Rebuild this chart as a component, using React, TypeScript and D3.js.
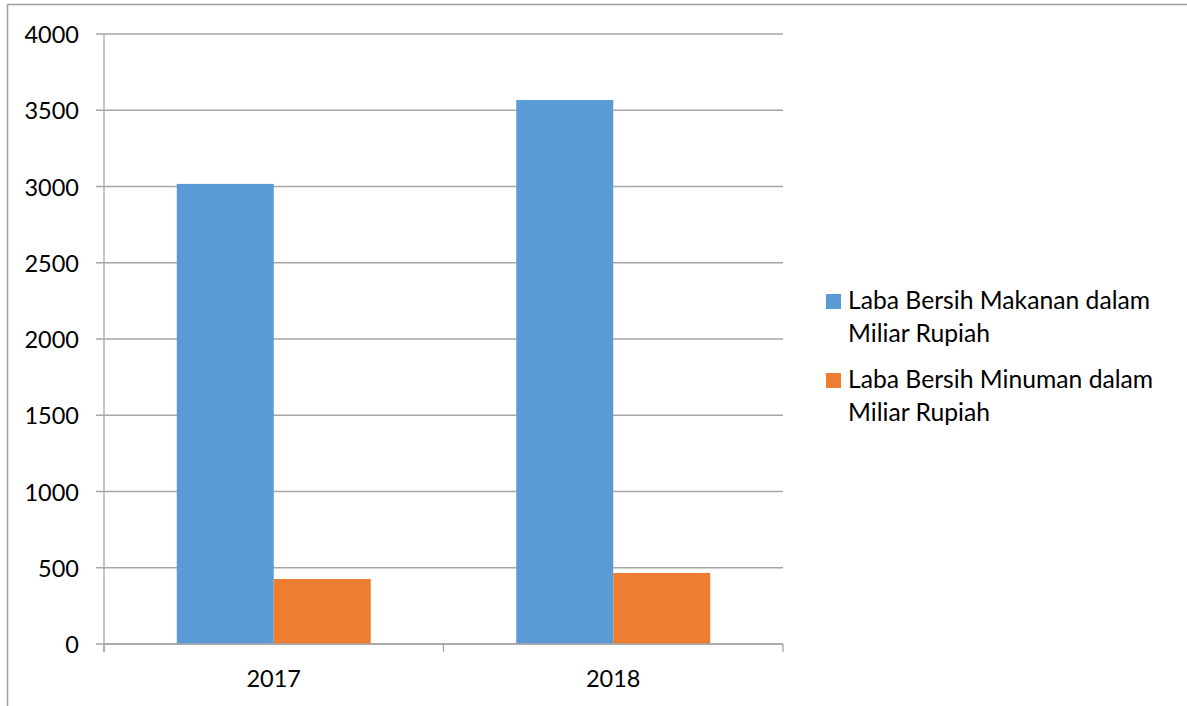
import React from "react";
import * as d3 from "d3";

const categories = ["2017", "2018"];
const seriesNames = [
  "Laba Bersih Makanan dalam Miliar Rupiah",
  "Laba Bersih Minuman dalam Miliar Rupiah",
];
const legendLines = [
  ["Laba Bersih Makanan dalam", "Miliar Rupiah"],
  ["Laba Bersih Minuman dalam", "Miliar Rupiah"],
];
const makanan = [3017, 3567];
const minuman = [426, 466];
const yTicks = [0, 500, 1000, 1500, 2000, 2500, 3000, 3500, 4000];
const colors = ["#5B9BD5", "#ED7D31"];

const W = 1187;
const H = 706;
const FONT = "Lato, 'Open Sans', sans-serif";

export default function App() {
  const left = 104;
  const right = 783;
  const top = 34;
  const bottom = 644;
  const y = d3.scaleLinear().domain([0, 4000]).range([bottom, top]);
  const x0 = d3.scaleBand().domain(categories).range([left, right]).paddingInner(0).paddingOuter(0);
  const x1 = d3
    .scaleBand()
    .domain(seriesNames)
    .range([0, x0.bandwidth()])
    .paddingInner(0)
    .paddingOuter(0.75);
  const data = [makanan, minuman];
  const gridColor = "#a6a6a6";
  const catTicks = [left, ...categories.map((c) => (x0(c) as number) + x0.bandwidth())];

  return (
    <div style={{ position: "absolute", left: 0, top: 0 }}>
      <svg width={W} height={H} style={{ display: "block", background: "#fff" }}>
        <rect x={7.5} y={4.5} width={W + 10} height={H + 10} fill="#fff" stroke="#a0a0a0" strokeWidth={1.5} />
        {yTicks.map((t) => (
          <g key={t}>
            <line x1={96} x2={right} y1={y(t)} y2={y(t)} stroke={gridColor} strokeWidth={1.3} />
            <text
              x={79}
              y={y(t)}
              textAnchor="end"
              dominantBaseline="central"
              fontFamily={FONT}
              fontSize={23.5}
              fill="#000"
            >
              {t}
            </text>
          </g>
        ))}
        {seriesNames.map((s, si) =>
          categories.map((c, ci) => (
            <rect
              key={s + c}
              x={(x0(c) as number) + (x1(s) as number)}
              y={y(data[si][ci])}
              width={x1.bandwidth()}
              height={bottom - y(data[si][ci])}
              fill={colors[si]}
            />
          ))
        )}
        <line x1={left} x2={left} y1={top} y2={bottom + 8} stroke={gridColor} strokeWidth={1.3} />
        <line x1={left} x2={right} y1={bottom} y2={bottom} stroke={gridColor} strokeWidth={1.3} />
        {catTicks.map((tx, i) => (
          <line key={i} x1={tx} x2={tx} y1={bottom} y2={bottom + 8} stroke={gridColor} strokeWidth={1.3} />
        ))}
        {categories.map((c) => (
          <text
            key={c}
            x={(x0(c) as number) + x0.bandwidth() / 2}
            y={687}
            textAnchor="middle"
            fontFamily={FONT}
            fontSize={23.5}
            fill="#000"
          >
            {c}
          </text>
        ))}
        {legendLines.map((lines, i) => {
          const base = 309 + i * 79;
          return (
            <g key={i}>
              <rect x={826} y={base - 15} width={15} height={15} fill={colors[i]} />
              {lines.map((ln, j) => (
                <text key={j} x={848} y={base + j * 33} fontFamily={FONT} fontSize={24.7} fill="#000">
                  {ln}
                </text>
              ))}
            </g>
          );
        })}
      </svg>
    </div>
  );
}
